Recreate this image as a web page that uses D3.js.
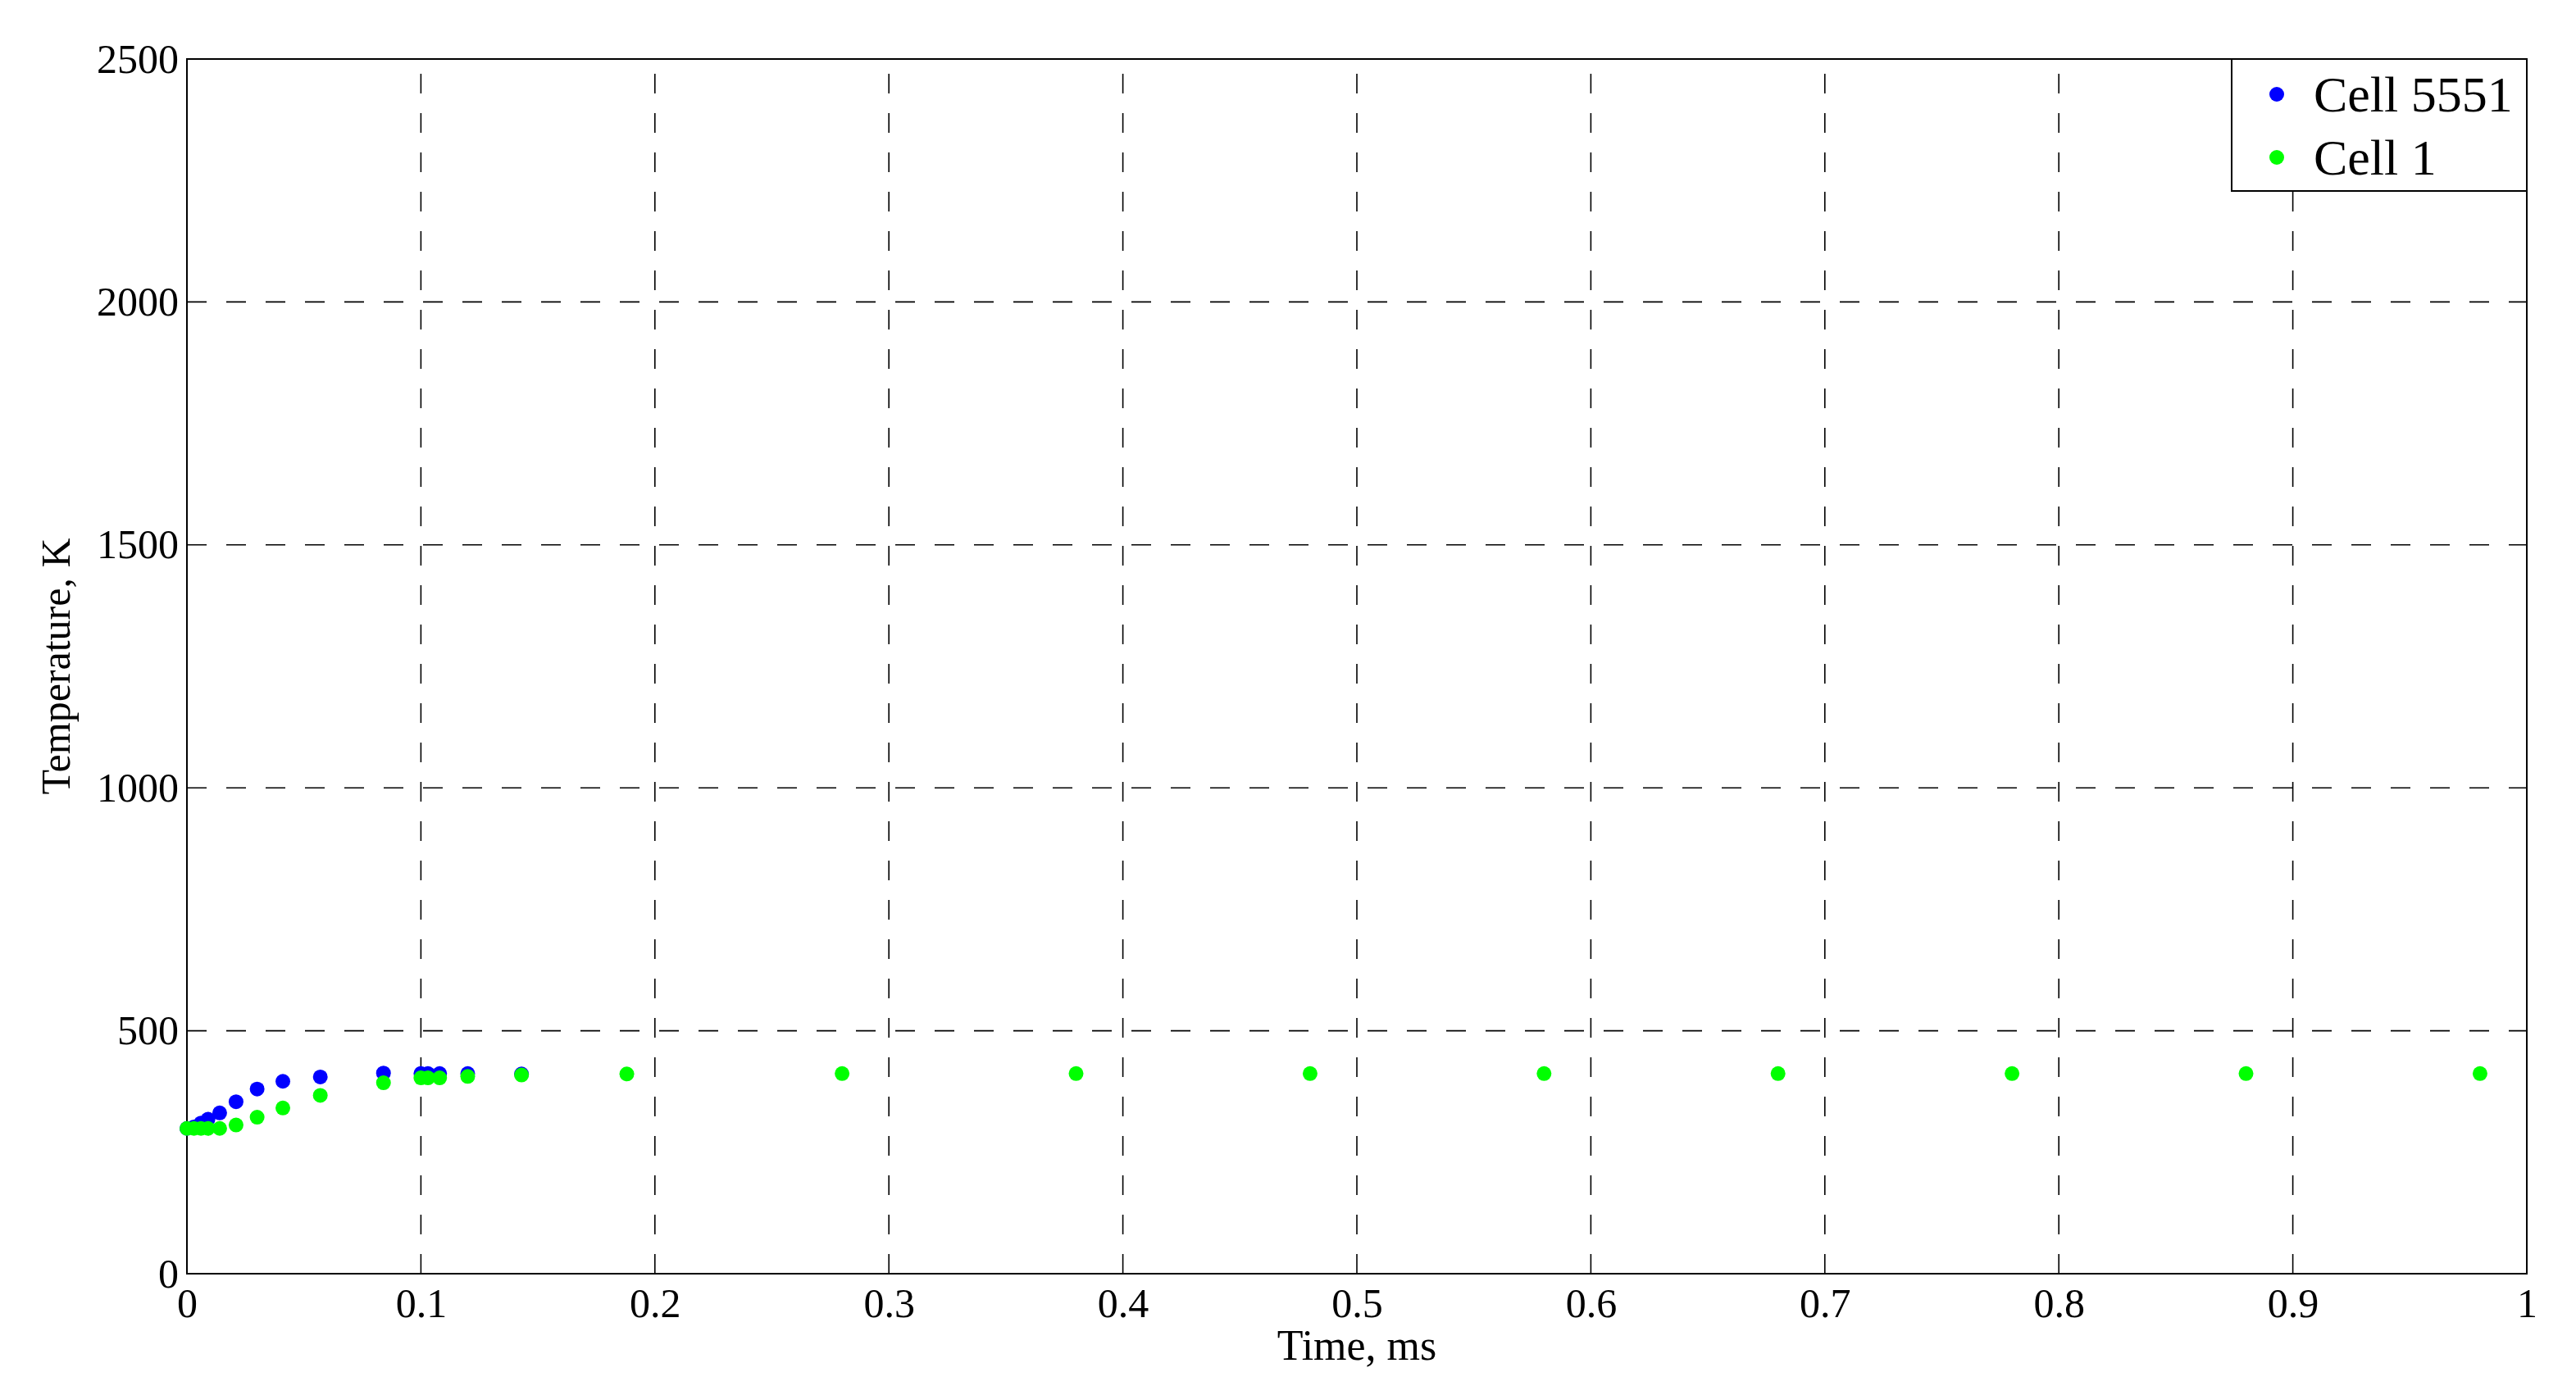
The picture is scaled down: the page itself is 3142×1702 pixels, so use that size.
<!DOCTYPE html>
<meta charset="utf-8">
<style>
body { margin: 0; background: #fff; }
svg { display: block; }
text { font-family: "Liberation Serif", "Times New Roman", serif; fill: #000; }
.grid line { stroke: #000; stroke-width: 1.6; stroke-dasharray: 24,24; }
.axis path, .axis line { stroke: none; }
</style>
<body>
<script src="https://d3js.org/d3.v7.min.js"></script>
<script>
// series: Cell 5551
var timeCell5551 = [0, 0.003, 0.006, 0.009, 0.014, 0.021, 0.030, 0.041, 0.057, 0.084, 0.100, 0.103, 0.108, 0.120, 0.143];
var tempCell5551 = [299, 302, 310, 318, 331, 354, 380, 396, 405, 413, 412, 412, 412, 412, 411];

// series: Cell 1
var timeCell1 = [0, 0.003, 0.006, 0.009, 0.014, 0.021, 0.030, 0.041, 0.057, 0.084, 0.100, 0.103, 0.108, 0.120, 0.143,
                 0.188, 0.280, 0.380, 0.480, 0.580, 0.680, 0.780, 0.880, 0.980];
var tempCell1 = [299, 299, 299, 299, 299, 306, 322, 341, 367, 393, 403, 403, 403, 406, 409,
                 411, 412, 412, 412, 412, 412, 412, 412, 412];

var xTicks = [0, 0.1, 0.2, 0.3, 0.4, 0.5, 0.6, 0.7, 0.8, 0.9, 1];
var xTickLabels = ["0", "0.1", "0.2", "0.3", "0.4", "0.5", "0.6", "0.7", "0.8", "0.9", "1"];
var yTicks = [0, 500, 1000, 1500, 2000, 2500];
var yTickLabels = ["0", "500", "1000", "1500", "2000", "2500"];

var seriesNames = ["Cell 5551", "Cell 1"];
var seriesColors = ["#0000ff", "#00ff00"];

var W = 3142, H = 1702;
var margin = {top: 72, right: 60, bottom: 148, left: 228};
var width = W - margin.left - margin.right,
    height = H - margin.top - margin.bottom;
var serif = '"Liberation Serif", "Times New Roman", serif';

var svg = d3.select("body").append("svg")
    .attr("width", W)
    .attr("height", H);

var g = svg.append("g")
    .attr("transform", "translate(" + margin.left + "," + margin.top + ")");

var x = d3.scaleLinear().domain([0, 1]).range([0, width]);
var y = d3.scaleLinear().domain([0, 2500]).range([height, 0]);

// dashed grid
var grid = g.append("g").attr("class", "grid");
grid.selectAll(".vg")
    .data(xTicks.slice(1, -1))
  .enter().append("line")
    .attr("x1", function(d) { return x(d); })
    .attr("x2", function(d) { return x(d); })
    .attr("y1", height)
    .attr("y2", 0);
grid.selectAll(".hg")
    .data(yTicks.slice(1, -1))
  .enter().append("line")
    .attr("x1", 0)
    .attr("x2", width)
    .attr("y1", function(d) { return y(d); })
    .attr("y2", function(d) { return y(d); });

// axes
g.append("g")
    .attr("class", "axis")
    .attr("transform", "translate(0," + height + ")")
    .call(d3.axisBottom(x).tickValues(xTicks).tickSize(0).tickPadding(17)
      .tickFormat(function(d, i) { return xTickLabels[i]; }))
    .attr("font-family", serif)
    .attr("font-size", 50);

g.append("g")
    .attr("class", "axis")
    .call(d3.axisLeft(y).tickValues(yTicks).tickSize(0).tickPadding(10)
      .tickFormat(function(d, i) { return yTickLabels[i]; }))
    .attr("font-family", serif)
    .attr("font-size", 50);

// frame
g.append("rect")
    .attr("width", width)
    .attr("height", height)
    .attr("fill", "none")
    .attr("stroke", "#000")
    .attr("stroke-width", 2);

// points
var series = [
  {name: seriesNames[0], color: seriesColors[0], t: timeCell5551, v: tempCell5551},
  {name: seriesNames[1], color: seriesColors[1], t: timeCell1, v: tempCell1}
];

series.forEach(function(s) {
  g.append("g").selectAll("circle")
      .data(s.t)
    .enter().append("circle")
      .attr("cx", function(d) { return x(d); })
      .attr("cy", function(d, i) { return y(s.v[i]); })
      .attr("r", 9)
      .attr("fill", s.color);
});

// axis titles
g.append("text")
    .attr("x", width / 2)
    .attr("y", height + 105)
    .attr("text-anchor", "middle")
    .style("font-size", "52px")
    .text("Time, ms");

g.append("text")
    .attr("transform", "translate(" + (-143) + "," + (height / 2) + ") rotate(-90)")
    .attr("text-anchor", "middle")
    .style("font-size", "50px")
    .text("Temperature, K");

// legend
var legW = 360, legH = 161;
var leg = g.append("g")
    .attr("transform", "translate(" + (width - legW) + ",0)");
leg.append("rect")
    .attr("width", legW)
    .attr("height", legH)
    .attr("fill", "#fff")
    .attr("stroke", "#000")
    .attr("stroke-width", 2);
var rows = leg.selectAll(".row")
    .data(series)
  .enter().append("g")
    .attr("transform", function(d, i) { return "translate(0," + (43 + i * 77) + ")"; });
rows.append("circle")
    .attr("cx", 55)
    .attr("r", 9)
    .attr("fill", function(d) { return d.color; });
rows.append("text")
    .attr("x", 100)
    .attr("dy", "0.34em")
    .style("font-size", "62px")
    .text(function(d) { return d.name; });
</script>
